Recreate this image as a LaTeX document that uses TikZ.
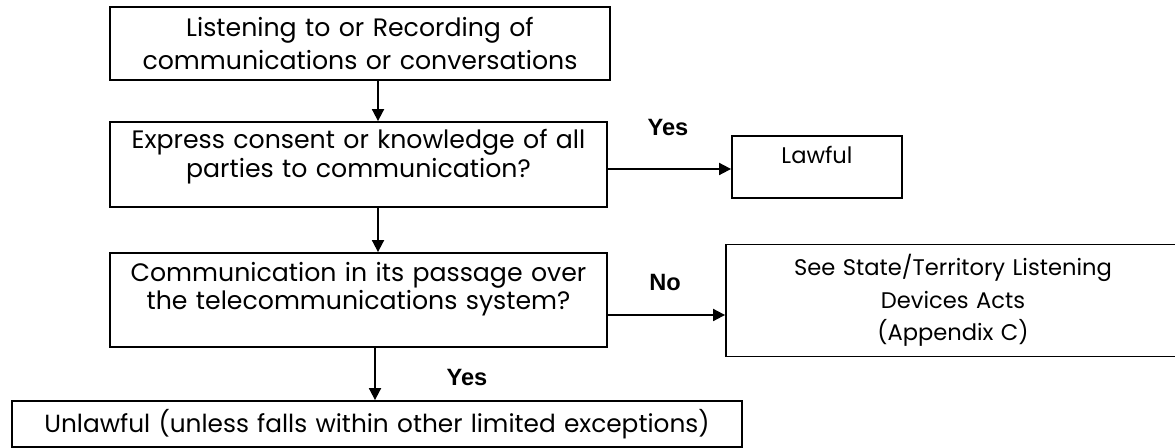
\documentclass[tikz,border=0pt]{standalone}
\usepackage{fontspec}
\setmainfont{Poppins}
\newfontfamily\lblfont{Liberation Sans}
\usetikzlibrary{arrows.meta}

\begin{document}
\begin{tikzpicture}[x=0.5pt, y=-0.5pt,
  >={Triangle[length=6pt, width=6pt]},
  box/.style={draw, line width=0.9pt, align=center, inner sep=2pt},
  big/.style={font=\fontsize{12.6}{#1}\selectfont},
  small/.style={font=\fontsize{11.3}{16.25}\selectfont},
  lift/.style={execute at end node={\endgraf\vspace{#1}}},
  lbl/.style={font=\lblfont\fontsize{11.8}{13}\selectfont\bfseries}]

\useasboundingbox (0,0) rectangle (1175,448);

\node[box, big=16.5, text width=244pt, minimum width=250pt, minimum height=36.5pt] (listen) at (360,43.5)
     {Listening to or Recording of\\ communications or conversations};
\node[box, big=14.5, lift=7.5pt, text width=242pt, minimum width=248.5pt, minimum height=42.5pt] (consent) at (358.5,164.5)
     {Express consent or knowledge of all\\ parties to communication?};
\node[box, big=14, lift=11pt, text width=242pt, minimum width=248.5pt, minimum height=47pt] (passage) at (358.5,300)
     {Communication in its passage over\\ the telecommunications system?};
\node[box, font=\fontsize{12.4}{15}\selectfont, text width=359pt, minimum width=365pt, minimum height=23pt] (unlawful) at (377,424)
     {Unlawful (unless falls within other limited exceptions)};
\node[box, small, lift=12pt, text width=79pt, minimum width=85pt, minimum height=31pt] (lawful) at (817,167)
     {Lawful};
\node[box, small, text width=221pt, minimum width=227pt, minimum height=56pt] (devices) at (953,300.5)
     {See State/Territory Listening\\ Devices Acts\\ (Appendix C)};

\coordinate (down) at (378,0);
\draw[->, line width=0.9pt] (listen.south -| down) -- (consent.north -| down);
\draw[->, line width=0.9pt] (consent.south -| down) -- (passage.north -| down);
\draw[->, line width=0.9pt] ([xshift=-1.5pt]passage.south -| down) -- ([xshift=-1.5pt]unlawful.north -| down);

\coordinate (yes1) at (0,169);
\coordinate (no1) at (0,315);
\draw[->, line width=0.9pt] (consent.east |- yes1) -- (lawful.west |- yes1);
\draw[->, line width=0.9pt] (passage.east |- no1) -- (devices.west |- no1);

\node[lbl] (yeslawful) at (668,128) {Yes};
\node[lbl] (nodevices) at (665,283) {No};
\node[lbl] (yesunlawful) at (467,378) {Yes};
\end{tikzpicture}
\end{document}
